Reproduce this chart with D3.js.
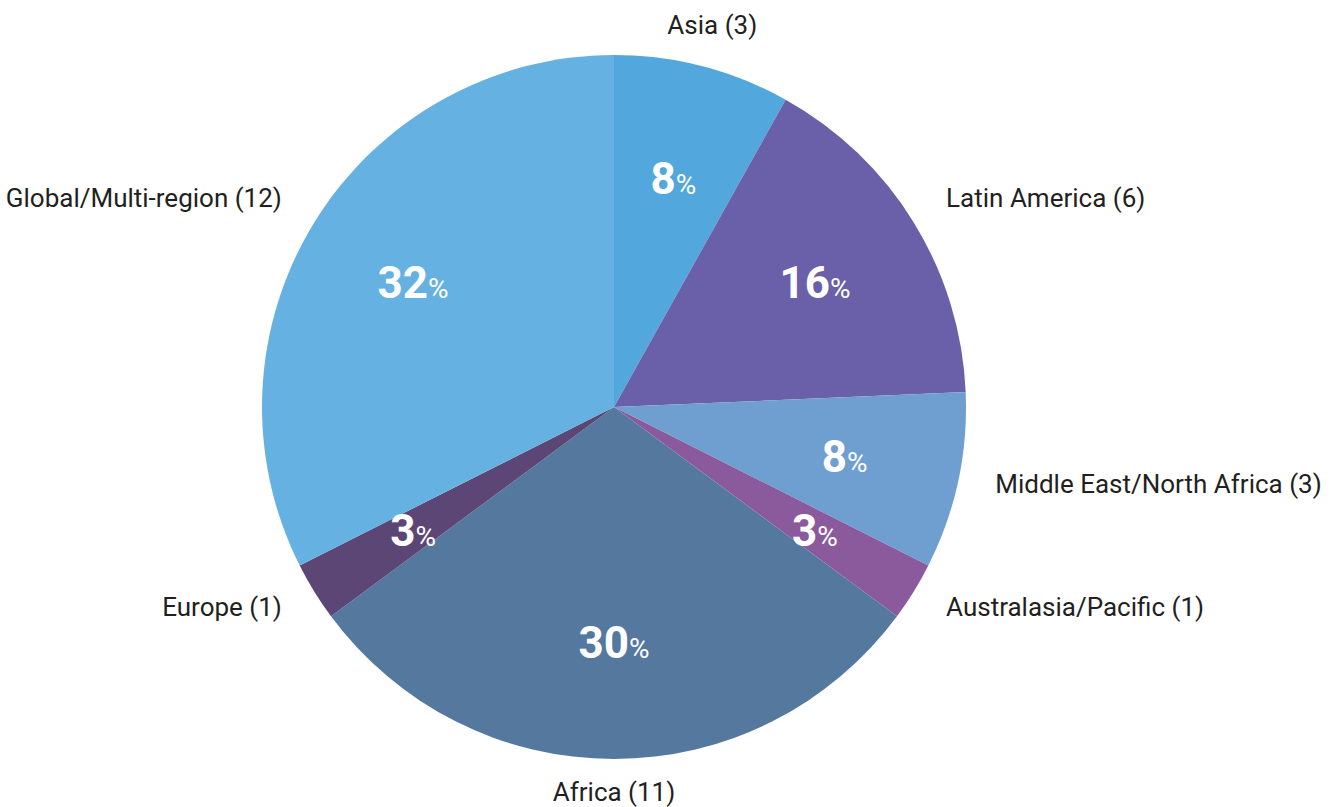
<!DOCTYPE html>
<html>
<head>
<meta charset="utf-8">
<script src="https://cdn.jsdelivr.net/npm/d3@7"></script>
<style>
  html, body { margin: 0; padding: 0; background: #ffffff; }
  svg { display: block; }
</style>
</head>
<body>
<svg id="chart" width="1340" height="807"></svg>
<script>
const regions = ["Asia", "Latin America", "Middle East/North Africa", "Australasia/Pacific", "Africa", "Europe", "Global/Multi-region"];
const counts = [3, 6, 3, 1, 11, 1, 12];
const colors = ["#52a7dd", "#6a5fa9", "#6f9fd1", "#8b5a9d", "#55789e", "#5b4675", "#65b2e2"];

const W = 1340, H = 807;
const cx = 614, cy = 407, R = 352;
const total = d3.sum(counts);

const svg = d3.select("#chart");
const g = svg.append("g").attr("transform", `translate(${cx},${cy})`);

const data = regions.map((name, i) => ({ name, value: counts[i], color: colors[i] }));
const pie = d3.pie().value(d => d.value).sort(null);
const arcs = pie(data);

const arc = d3.arc().innerRadius(0).outerRadius(R);
const pctArc = d3.arc().innerRadius(236).outerRadius(236);
const labelArc = d3.arc().innerRadius(390).outerRadius(390);

g.selectAll("path.slice").data(arcs).enter().append("path")
  .attr("class", "slice")
  .attr("d", arc)
  .attr("fill", d => d.data.color);

// percentage labels
const pct = g.selectAll("text.pct").data(arcs).enter().append("text")
  .attr("class", "pct")
  .attr("transform", d => { const c = pctArc.centroid(d); return `translate(${c[0]},${c[1] + 15})`; })
  .attr("text-anchor", "middle")
  .attr("fill", "#ffffff")
  .style("font-family", "Roboto, 'DejaVu Sans', sans-serif");
pct.append("tspan")
  .style("font-size", "44px").style("font-weight", "700")
  .text(d => Math.round(d.data.value / total * 100));
pct.append("tspan")
  .style("font-size", "28px").style("font-weight", "400")
  .text("%");

// outer labels
g.selectAll("text.lbl").data(arcs).enter().append("text")
  .attr("class", "lbl")
  .attr("transform", d => { const c = labelArc.centroid(d); return `translate(${c[0]},${c[1] - 5})`; })
  .attr("dy", "0.35em")
  .attr("text-anchor", d => {
    const c = labelArc.centroid(d);
    if (Math.abs(c[0]) < 120) return "middle";
    return c[0] > 0 ? "start" : "end";
  })
  .attr("fill", "#231f20")
  .style("font-family", "Roboto, 'DejaVu Sans', sans-serif")
  .style("font-size", "26px")
  .text(d => `${d.data.name} (${d.data.value})`);
</script>
</body>
</html>
